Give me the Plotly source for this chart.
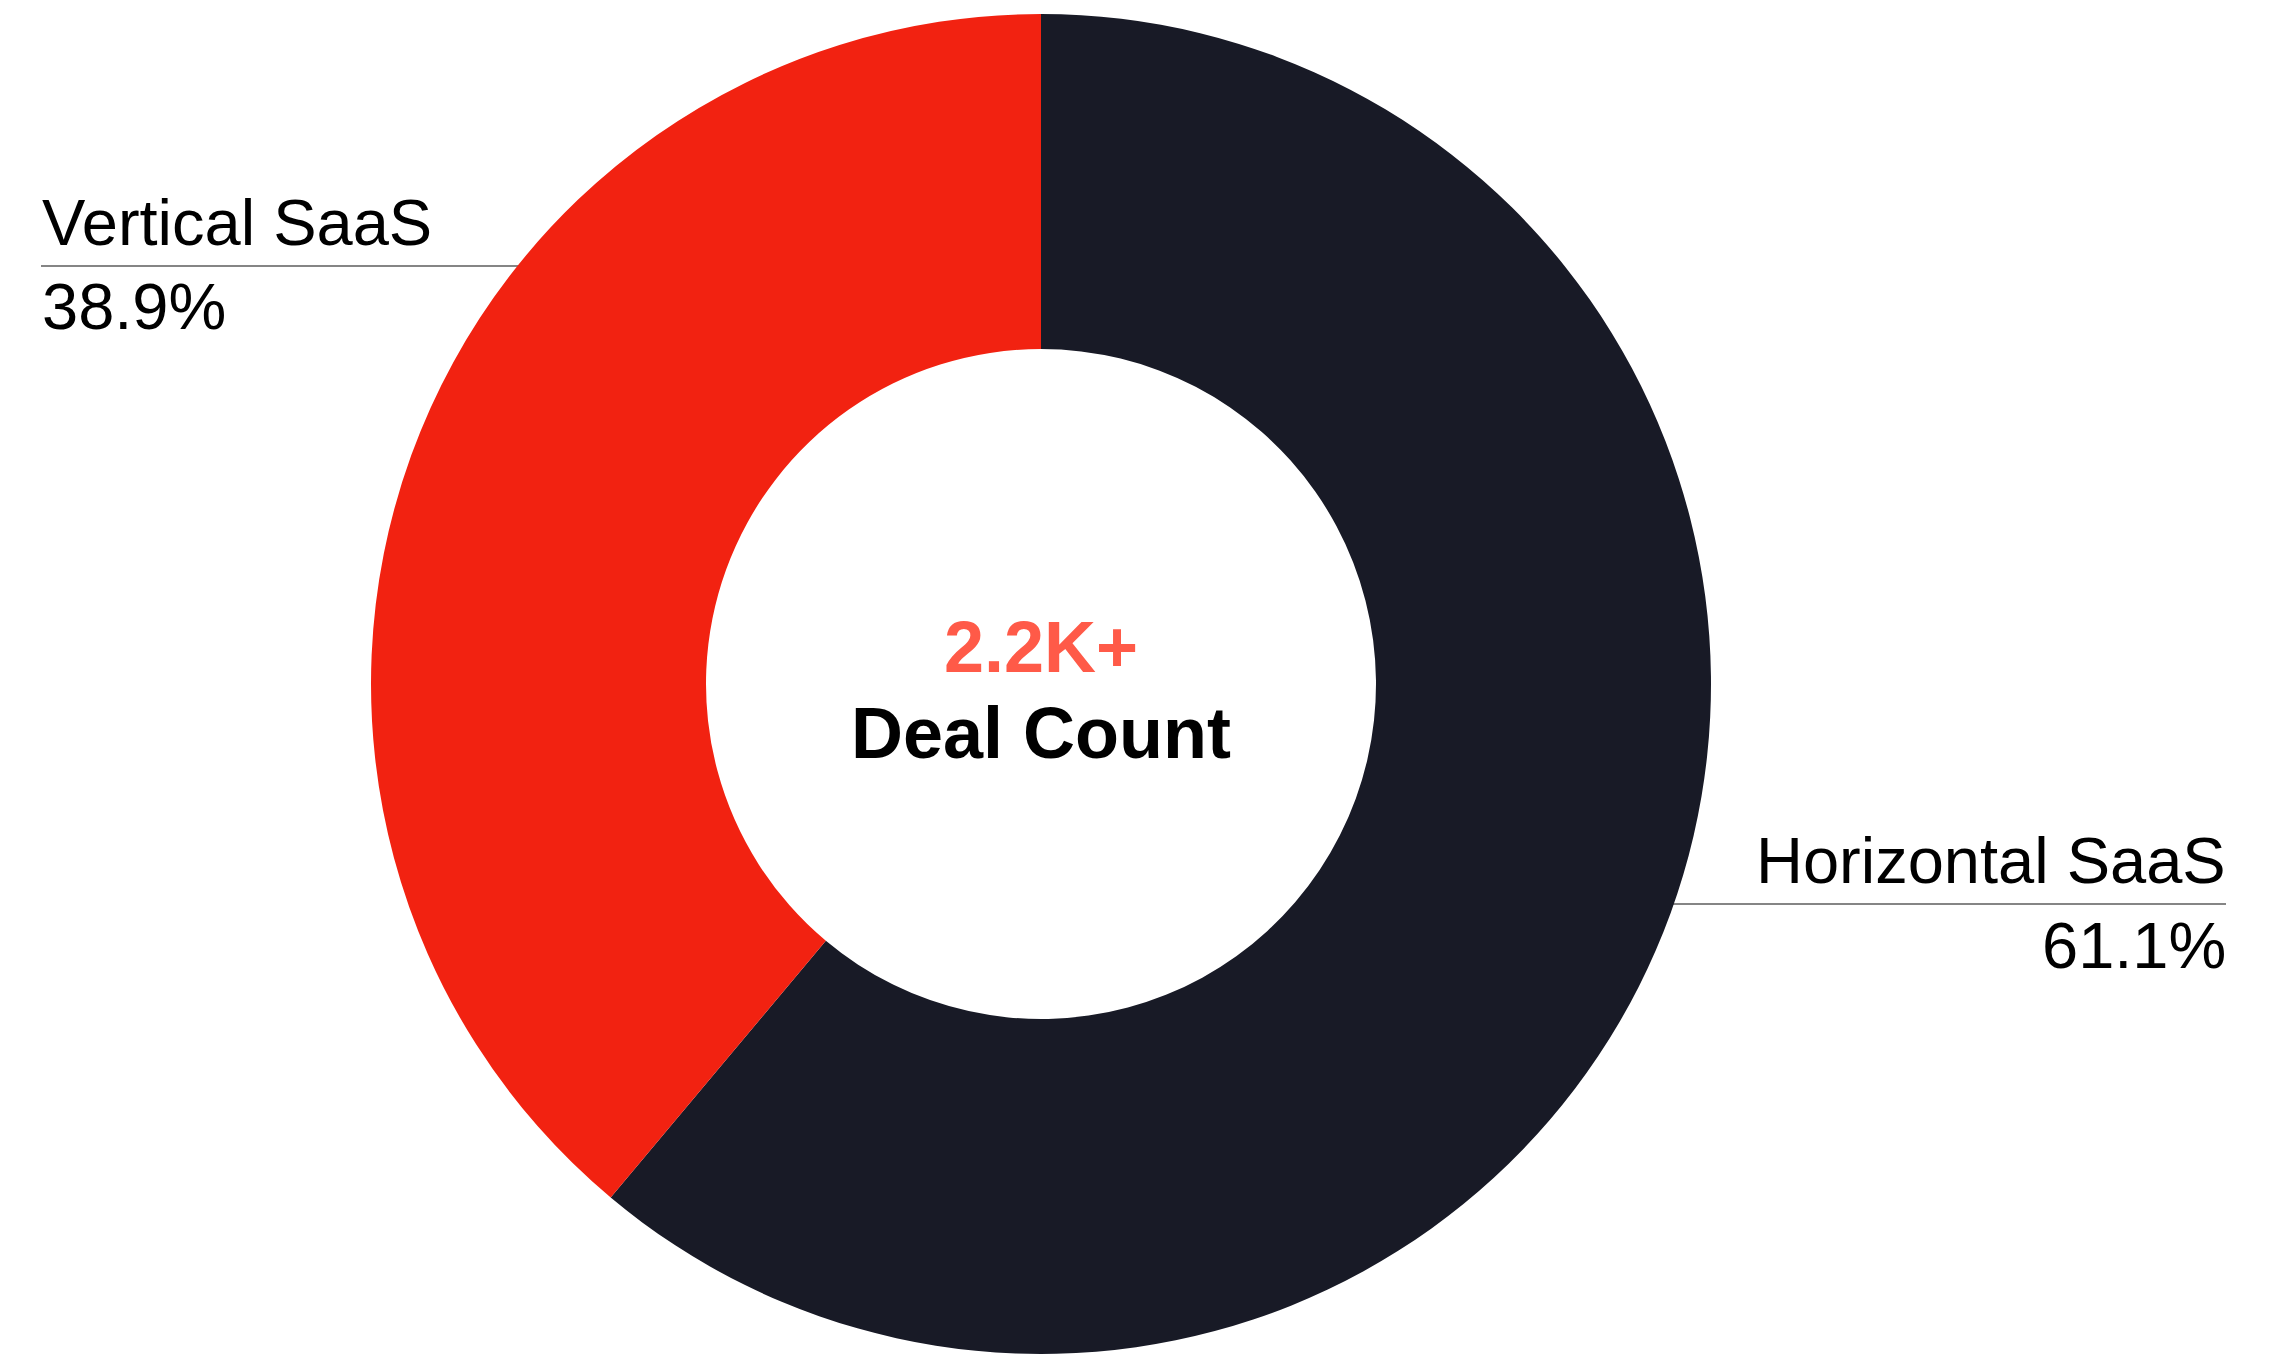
import plotly.graph_objects as go

# Deal count share by SaaS type
segments = ["Horizontal SaaS", "Vertical SaaS"]
shares = [61.1, 38.9]
colors = ["#181A26", "#F22211"]
total_label = "2.2K+"
total_caption = "Deal Count"

W, H = 2296, 1354
FONT = "Liberation Sans, Arial, sans-serif"


def px(x):
    return x / W


def py(y):
    return 1 - y / H


fig = go.Figure(
    go.Pie(
        labels=segments,
        values=shares,
        hole=0.5,
        sort=False,
        direction="clockwise",
        rotation=0,
        marker=dict(colors=colors, line=dict(width=0)),
        textinfo="none",
        hoverinfo="label+percent",
        domain=dict(x=[px(1041 - 672), px(1041 + 672)], y=[0, py(14)]),
        showlegend=False,
    )
)

LABEL_SIZE = 65
annotations = [
    dict(x=px(40), y=py(222), text=segments[1], xanchor="left", yanchor="middle",
         font=dict(size=LABEL_SIZE, color="#000000", family=FONT)),
    dict(x=px(40), y=py(306), text=f"{shares[1]:.1f}%", xanchor="left", yanchor="middle",
         font=dict(size=LABEL_SIZE, color="#000000", family=FONT)),
    dict(x=px(2228), y=py(860), text=segments[0], xanchor="right", yanchor="middle",
         font=dict(size=LABEL_SIZE, color="#000000", family=FONT)),
    dict(x=px(2228), y=py(945), text=f"{shares[0]:.1f}%", xanchor="right", yanchor="middle",
         font=dict(size=LABEL_SIZE, color="#000000", family=FONT)),
    dict(x=px(1041), y=py(647), text=f"<b>{total_label}</b>", xanchor="center", yanchor="middle",
         font=dict(size=72, color="#FF5A48", family=FONT)),
    dict(x=px(1041), y=py(733), text=f"<b>{total_caption}</b>", xanchor="center", yanchor="middle",
         font=dict(size=72, color="#000000", family=FONT)),
]
for a in annotations:
    a.update(xref="paper", yref="paper", showarrow=False)

shapes = [
    dict(type="line", xref="paper", yref="paper", layer="below",
         x0=px(41), x1=px(560), y0=py(266), y1=py(266),
         line=dict(color="#858585", width=2)),
    dict(type="line", xref="paper", yref="paper", layer="below",
         x0=px(1640), x1=px(2226), y0=py(904), y1=py(904),
         line=dict(color="#858585", width=2)),
]

fig.update_layout(
    width=W,
    height=H,
    margin=dict(l=0, r=0, t=0, b=0),
    paper_bgcolor="#FFFFFF",
    plot_bgcolor="#FFFFFF",
    annotations=annotations,
    shapes=shapes,
)

fig.write_html("out.html")
